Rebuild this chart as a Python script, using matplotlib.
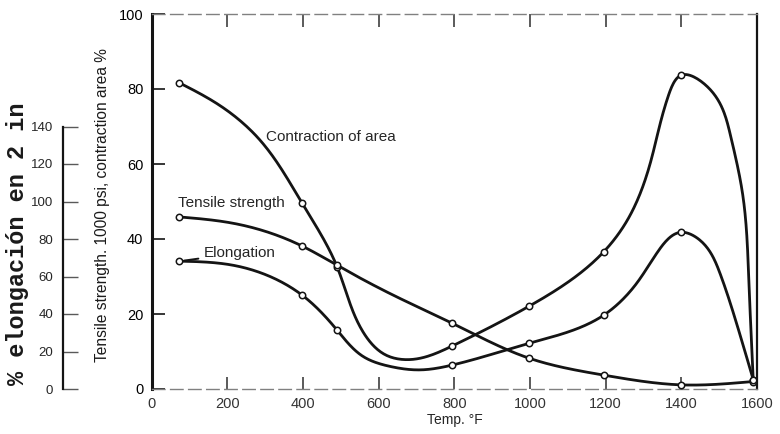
import numpy as np
import matplotlib
matplotlib.use('Agg')
import matplotlib.pyplot as plt

plt.rcParams['font.family'] = ['Liberation Sans', 'DejaVu Sans']

# Readings along each curve (temperature in degF)
contr_t = [72, 171, 286, 398, 490, 560, 620, 690, 795, 998, 1195, 1260, 1320,
           1365, 1400, 1469, 1530, 1562, 1578, 1590]
contr_v = [81.7, 76.2, 66.4, 49.5, 32.6, 15.0, 9.0, 7.9, 11.5, 22.1, 36.6, 45.5,
           61.0, 78.0, 83.7, 80.6, 67.6, 52.0, 30.0, 2.5]

tens_t = [72, 215, 398, 490, 647, 795, 998, 1195, 1400, 1590]
tens_v = [45.9, 44.2, 38.1, 33.0, 24.6, 17.5, 8.2, 3.7, 1.1, 2.0]

# elongation in % (secondary axis, 0-140)
elong_t = [72, 215, 398, 490, 560, 631, 710, 795, 998, 1195, 1282, 1335, 1400,
           1449, 1502, 1546, 1590]
elong_v = [68.2, 66.0, 50.0, 31.4, 17.2, 12.0, 10.2, 12.8, 24.4, 39.4, 56.4,
           72.4, 83.6, 79.4, 61.8, 35.0, 5.0]

# test temperatures (open circles)
test_t = [72, 398, 490, 795, 998, 1195, 1400, 1590]

ink = '#141414'


def natural_spline(t, y, tt):
    n = len(t)
    h = np.diff(t)
    A = np.zeros((n, n))
    r = np.zeros(n)
    A[0, 0] = A[-1, -1] = 1.0
    for i in range(1, n - 1):
        A[i, i - 1] = h[i - 1]
        A[i, i] = 2 * (h[i - 1] + h[i])
        A[i, i + 1] = h[i]
        r[i] = 6 * ((y[i + 1] - y[i]) / h[i] - (y[i] - y[i - 1]) / h[i - 1])
    M = np.linalg.solve(A, r)
    k = np.clip(np.searchsorted(t, tt) - 1, 0, n - 2)
    hk = h[k]
    a = t[k + 1] - tt
    b = tt - t[k]
    return (M[k] * a ** 3 / (6 * hk) + M[k + 1] * b ** 3 / (6 * hk)
            + (y[k] / hk - M[k] * hk / 6) * a + (y[k + 1] / hk - M[k + 1] * hk / 6) * b)


def smooth(xs, ys, ymax, n=600):
    """parametric cubic spline through the readings (chord length)"""
    kx, ky = 1.61 / 1600.0, 1.0 / ymax
    px = np.asarray(xs, float) * kx
    py = np.asarray(ys, float) * ky
    d = np.hypot(np.diff(px), np.diff(py))
    t = np.concatenate([[0], np.cumsum(d)])
    tt = np.linspace(0, t[-1], n)
    return natural_spline(t, px, tt) / kx, natural_spline(t, py, tt) / ky


def at_tests(xs, ys):
    xs = np.asarray(xs)
    m = np.isin(xs, test_t)
    return xs[m], np.asarray(ys)[m]


fig = plt.figure(figsize=(7.8, 4.34), dpi=100)
ax = fig.add_axes([151.7 / 780, 45 / 434, 605.3 / 780, 375 / 434])
ax.set_xlim(0, 1600)
ax.set_ylim(0, 100)

for xs, ys in [(contr_t, contr_v), (tens_t, tens_v)]:
    sx, sy = smooth(xs, ys, 100)
    ax.plot(sx, sy, color=ink, lw=2.0, solid_capstyle='round', zorder=3)
    mx, my = at_tests(xs, ys)
    ax.plot(mx, my, 'o', ms=4.6, mfc='white', mec=ink, mew=1.1, zorder=4)

# spines
ax.spines['left'].set_linewidth(2.2)
ax.spines['left'].set_color(ink)
ax.spines['right'].set_linewidth(1.6)
ax.spines['right'].set_color(ink)
for s in ('top', 'bottom'):
    ax.spines[s].set_color('0.5')
    ax.spines[s].set_linewidth(1.0)
    ax.spines[s].set_linestyle((0, (9, 4)))

ax.set_xticks(range(0, 1601, 200))
ax.set_yticks(range(0, 101, 20))
ax.tick_params(axis='x', direction='in', length=9, width=1.3, color='0.3',
               top=True, labelsize=10.5, labelcolor='0.2', pad=6)
ax.tick_params(axis='y', direction='in', length=9.5, width=1.2, color=ink,
               right=True, labelsize=10.5, pad=6)

ax.text(302, 67.2, 'Contraction of area', fontsize=11, va='center', ha='left',
        color='0.15')
ax.text(70, 49.6, 'Tensile strength', fontsize=11, va='center', ha='left',
        color='0.15')
ax.annotate('Elongation', xy=(76, elong_v[0] / 2), xytext=(138, 36.3),
            fontsize=11, va='center', ha='left', color='0.15',
            arrowprops=dict(arrowstyle='-', lw=1.4, color=ink,
                            shrinkA=2, shrinkB=3))

# secondary scale for elongation, drawn to the left of the main axis
ax2 = ax.twinx()
ax2.set_ylim(0, 200)
ax2.yaxis.set_ticks_position('left')
ax2.spines['left'].set_visible(True)
ax2.spines['left'].set_position(('axes', -89 / 605.3))
ax2.spines['left'].set_bounds(0, 140)
ax2.spines['left'].set_linewidth(1.6)
ax2.spines['left'].set_color(ink)
for s in ('right', 'top', 'bottom'):
    ax2.spines[s].set_visible(False)
ax2.set_yticks(range(0, 141, 20))
ax2.tick_params(axis='y', direction='in', length=11, width=1.0, color='0.35',
                labelsize=9.5, pad=7, labelcolor='0.15')

sx, sy = smooth(elong_t, elong_v, 200)
ax2.plot(sx, sy, color=ink, lw=2.0, solid_capstyle='round', zorder=3)
mx, my = at_tests(elong_t, elong_v)
ax2.plot(mx, my, 'o', ms=4.6, mfc='white', mec=ink, mew=1.1, zorder=4)

fig.text(103 / 780, 1 - 205 / 434, 'Tensile strength. 1000 psi, contraction area %',
         rotation=90, ha='center', va='center', fontsize=11.2, color='0.1')
fig.text(18 / 780, 1 - 244 / 434, '% elongación en 2 in', rotation=90,
         ha='center', va='center', fontsize=17, fontweight='bold',
         family=['Liberation Mono', 'DejaVu Sans Mono'], color='0.1')
fig.text(455 / 780, 1 - 420 / 434, 'Temp. °F', ha='center', va='center',
         fontsize=10, color='0.15')

fig.savefig('out.png', dpi=100)
